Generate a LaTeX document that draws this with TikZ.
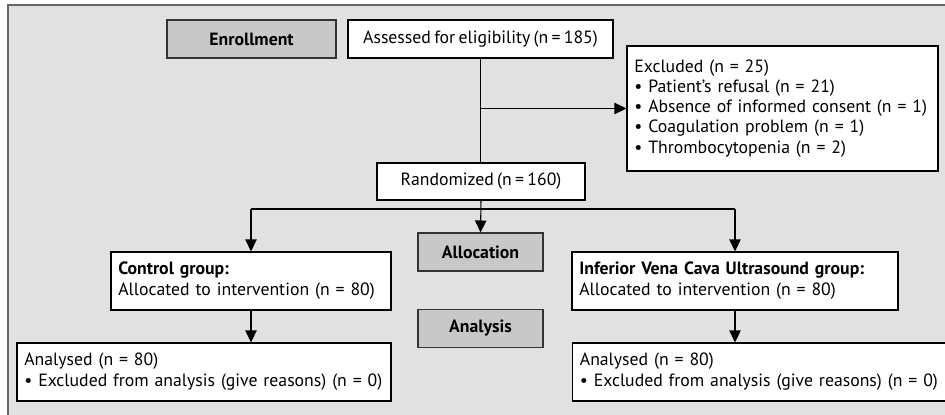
\documentclass[tikz,border=0pt]{standalone}
\usepackage{fontspec}
\setmainfont{PT Sans}[WordSpace=0.7]
\usetikzlibrary{arrows.meta}
\definecolor{panelgray}{HTML}{E1E1E1}
\definecolor{phasegray}{HTML}{C8C8C8}
\definecolor{framegray}{HTML}{666666}
\newcommand{\boxlines}[1]{\begin{tabular}{@{}l@{}}#1\end{tabular}}

\begin{document}
\begin{tikzpicture}[x=0.75pt, y=-0.75pt, line width=0.8pt,
  every node/.style={font=\fontsize{13.3}{15.2}\selectfont, inner xsep=5.5pt, inner ysep=1pt},
  phase/.style={draw=black!80, fill=phasegray, font=\fontsize{13.3}{15.2}\selectfont\bfseries,
    minimum width=125*0.75pt, minimum height=38*0.75pt},
  box/.style={draw=black, fill=white, minimum height=38*0.75pt},
  listbox/.style={box, align=left, text width=#1},
  arr/.style={-{Triangle[length=9pt, width=8.5pt]}}]

  %% ── Panel ─────────────────────────────────────
  \useasboundingbox (0,0) rectangle (945,414);
  \fill[panelgray] (8,5) rectangle (950,420);
  \draw[framegray, line width=1.6pt] (8,420) -- (8,5) -- (950,5);

  %% ── Enrollment ───────────────────────────────
  \node[phase, minimum width=169*0.75pt] (enroll) at (251.5,39) {Enrollment};
  \node[box, minimum width=265*0.75pt]   (assess) at (480.5,39) {Assessed for eligibility (n = 185)};
  \node[listbox=311*0.75pt-11pt, minimum height=125*0.75pt] (excl) at (782.5,108.5)
    {\boxlines{Excluded (n = 25)\\
     {\textbullet} Patient’s refusal (n = 21)\\
     {\textbullet} Absence of informed consent (n = 1)\\
     {\textbullet} Coagulation problem (n = 1)\\
     {\textbullet} Thrombocytopenia (n = 2)}};
  \node[box, minimum width=208*0.75pt, minimum height=37*0.75pt] (rand) at (481,181.5) {Randomized (n = 160)};

  %% ── Allocation ───────────────────────────────
  \node[phase] (alloc) at (480.5,252) {Allocation};
  \node[listbox=280*0.75pt-11pt, minimum height=58*0.75pt] (ctrl) at (251,281)
    {\boxlines{\textbf{Control group:}\\ Allocated to intervention (n = 80)}};
  \node[listbox=326*0.75pt-11pt, minimum height=58*0.75pt] (ivc) at (735,281)
    {\boxlines{\textbf{Inferior Vena Cava Ultrasound group:}\\ Allocated to intervention (n = 80)}};

  %% ── Analysis ─────────────────────────────────
  \node[phase] (analysis) at (480.5,328.5) {Analysis};
  \node[listbox=374*0.75pt-11pt, minimum height=58*0.75pt] (anleft) at (204,372)
    {\boxlines{Analysed (n = 80)\\ {\textbullet} Excluded from analysis (give reasons) (n = 0)}};
  \node[listbox=380*0.75pt-11pt, minimum height=58*0.75pt, anchor=west] (anright) at (572,372)
    {\boxlines{Analysed (n = 80)\\ {\textbullet} Excluded from analysis (give reasons) (n = 0)}};

  %% ── Connectors ───────────────────────────────
  \coordinate (split) at (assess.south |- excl.west);
  \coordinate (fork)  at (481,209);
  \draw (assess.south) -- (assess.south |- rand.north);
  \draw[arr] (split) -- (excl.west);
  \draw[arr] (rand.south) -- (alloc.north);
  \draw (ctrl.north |- fork) -- (ivc.north |- fork);
  \draw[arr] (ctrl.north |- fork) -- (ctrl.north);
  \draw[arr] (ivc.north |- fork) -- (ivc.north);
  \draw[arr] (ctrl.south) -- (ctrl.south |- anleft.north);
  \draw[arr] (ivc.south) -- (ivc.south |- anright.north);

\end{tikzpicture}
\end{document}
